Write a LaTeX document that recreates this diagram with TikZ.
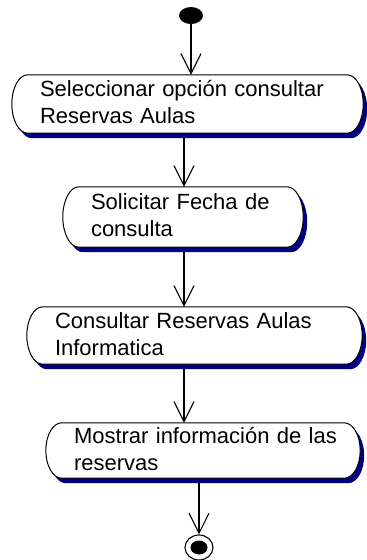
\documentclass[tikz,border=0pt]{standalone}
\usepackage{fontspec}
\setmainfont{Liberation Sans}
\usepackage{tikz}
\usetikzlibrary{arrows.meta,calc,shapes.geometric,backgrounds}
\definecolor{shadowblue}{RGB}{0,0,128}

% outline of an activity round its text: flat top and bottom, half-ellipse ends
% #1 node, #2/#3 offset (for the shadow)
\newcommand{\actpath}[3]{let \p1=($(#1.north west)+(-28pt+#2,#3)$),
  \p2=($(#1.south east)+(8pt+#2,#3)$), \n1={(\y1-\y2)/2} in
  (\x1+16pt,\y1) -- (\x2-16pt,\y1)
  arc[start angle=90, end angle=-90, x radius=16pt, y radius=\n1]
  -- (\x1+16pt,\y2)
  arc[start angle=270, end angle=90, x radius=16pt, y radius=\n1] -- cycle}

\begin{document}
\begin{tikzpicture}[x=1pt,y=1pt,
   flow/.style={-{Straight Barb[length=20pt,width=20pt]},line width=1.1pt},
   activity/.style={rectangle,inner sep=0pt,align=left,
     text height=16pt,text depth=31pt,font=\fontsize{22pt}{27pt}\selectfont},
   initdot/.style={ellipse,fill=black,minimum width=24pt,minimum height=17pt,inner sep=0pt},
   finaldot/.style={ellipse,draw,line width=1.1pt,minimum width=28pt,minimum height=25pt,
     inner sep=0pt,path picture={\fill (path picture bounding box.center)
       ellipse[x radius=8.5pt,y radius=7pt];}}]
  \useasboundingbox (0,0) rectangle (367,-560);
  \node[initdot] (start) at (191,-15.5) {};
  \coordinate (col) at (184,0);
  \node[activity,text width=315pt,minimum height=58pt] (s1) at (197.5,-104)
    {Seleccionar opción consultar\\Reservas Aulas};
  \node[activity,text width=204pt,minimum height=60pt] (s2) at (193,-217)
    {Solicitar Fecha de\\consulta};
  \node[activity,text width=299pt,minimum height=57pt] (s3) at (204.5,-335.5)
    {Consultar Reservas Aulas\\Informatica};
  \node[activity,text width=278pt,minimum height=55pt] (s4) at (213,-450.5)
    {Mostrar información de las\\reservas};
  \node[finaldot] (final) at (199,-547.5) {};
  \begin{scope}[on background layer]
    \draw[flow] (start) -- (start |- s1.north);
    \draw[flow] (s1.south -| col) -- (s2.north -| col);
    \draw[flow] (s2.south -| col) -- (s3.north -| col);
    \draw[flow] (s3.south -| col) -- (s4.north -| col);
    \draw[flow] (final |- s4.south) -- (final.north);
    \foreach \act in {s1,s2,s3,s4} {
      \fill[shadowblue] \actpath{\act}{4pt}{-5pt};
      \draw[fill=white,line width=1pt] \actpath{\act}{0pt}{0pt};
    }
  \end{scope}
\end{tikzpicture}
\end{document}
